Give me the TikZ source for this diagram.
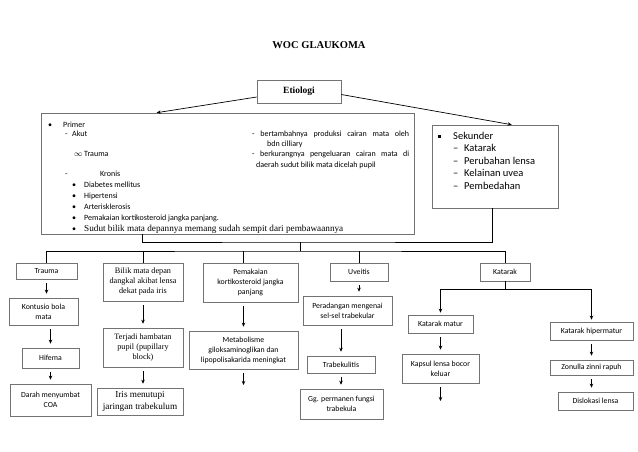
\documentclass[tikz,border=0pt]{standalone}
\usepackage{fontspec}
\setmainfont{Liberation Serif}
\newfontfamily\calibri{Carlito}
\usetikzlibrary{arrows.meta}

\tikzset{
  box/.style={draw=black!55, line width=0.6pt, inner sep=1pt, align=center,
    font=\calibri\fontsize{7.8}{10}\selectfont},
  serifbox/.style={box, font=\fontsize{8.2}{10}\selectfont},
  txt/.style={anchor=base west, inner sep=0pt, font=\calibri\fontsize{8}{9}\selectfont},
  bigtxt/.style={anchor=base west, inner sep=0pt, font=\calibri\fontsize{10.5}{12}\selectfont},
  link/.style={line width=0.7pt},
  arr/.style={->, line width=0.7pt, shorten <=4pt, shorten >=4pt}
}

\begin{document}
\begin{tikzpicture}[x=1pt, y=-1pt, >={Stealth[length=4pt,width=3.5pt]}]
 \useasboundingbox (0,0) rectangle (638,451);

 \node[font=\bfseries\fontsize{10.5}{12}\selectfont] (title) at (319,45) {WOC GLAUKOMA};
 \node[box, font=\bfseries\fontsize{9.5}{11}\selectfont,
       minimum width=84pt, minimum height=23pt] (etiologi) at (299,91.5) {Etiologi};

 % primer
 \node[box, minimum width=373pt, minimum height=121pt] (primer) at (227.5,173.5) {};
 \node[txt] (primer-dot) at (48,127) {\textbullet};
 \node[txt] (primer-head) at (63,127) {Primer};
 \node[txt] (akut-dash) at (65,136) {-};
 \node[txt] (akut) at (72,136) {Akut};
 \node[txt] (trauma-sign) at (74,156) {\ensuremath{\infty}};
 \node[txt] (trauma-txt) at (84,156) {Trauma};
 \node[txt] (kronis-dash) at (65,176) {-};
 \node[txt] (kronis) at (100,176) {Kronis};
 \foreach \lbl [count=\i] in {Diabetes mellitus, Hipertensi, Arterisklerosis,
                              Pemakaian kortikosteroid jangka panjang.}{
   \node[txt] (kronis-dot-\i) at (72,176+11*\i) {\textbullet};
   \node[txt] (kronis-\i) at (84,176+11*\i) {\lbl};
 }
 \node[txt] (kronis-dot-5) at (72,231) {\textbullet};
 \node[txt, font=\fontsize{9.2}{11}\selectfont] (kronis-5) at (84,231)
   {Sudut bilik mata depannya memang sudah sempit dari pembawaannya};
 \node[txt] (akut-1) at (252,136) {\makebox[157pt][s]{- bertambahnya produksi cairan mata oleh}};
 \node[txt] (akut-2) at (267,146) {bdn cilliary};
 \node[txt] (akut-3) at (252,156) {\makebox[157pt][s]{- berkurangnya pengeluaran cairan mata di}};
 \node[txt] (akut-4) at (256,167) {daerah sudut bilik mata dicelah pupil};

 % sekunder
 \node[box, minimum width=126pt, minimum height=83pt] (sekunder) at (495,166.5) {};
 \node[bigtxt] (sekunder-dot) at (438,139) {\rule[1.5pt]{3pt}{3pt}};
 \node[bigtxt] (sekunder-head) at (453,139) {Sekunder};
 \foreach \lbl [count=\i] in {Katarak, Perubahan lensa, Kelainan uvea, Pembedahan}{
   \node[bigtxt] (sekunder-dash-\i) at (453,139+12.5*\i) {\textendash};
   \node[bigtxt] (sekunder-\i) at (464,139+12.5*\i) {\lbl};
 }

 % first row
 \node[box, minimum width=61pt, minimum height=16pt] (trauma) at (46.5,271) {Trauma};
 \node[serifbox, minimum width=80pt, minimum height=38pt] (bilik) at (143,282)
   {Bilik mata depan\\dangkal akibat lensa\\dekat pada iris};
 \node[box, minimum width=95pt, minimum height=39pt] (pemakaian) at (250.5,282.5)
   {Pemakaian\\kortikosteroid jangka\\panjang};
 \node[box, minimum width=58pt, minimum height=18pt] (uveitis) at (359,272) {Uveitis};
 \node[box, minimum width=50pt, minimum height=18pt] (katarak) at (505,272) {Katarak};

 % trauma column
 \node[box, minimum width=69pt, minimum height=27pt] (kontusio) at (43.5,311.5) {Kontusio bola\\mata};
 \node[box, minimum width=57pt, minimum height=20pt] (hifema) at (50.5,358) {Hifema};
 \node[box, minimum width=81pt, minimum height=32pt] (darah) at (50.5,400) {Darah menyumbat\\COA};

 % bilik column
 \node[serifbox, minimum width=80pt, minimum height=39pt] (terjadi) at (143,347.5)
   {Terjadi hambatan\\pupil (pupillary\\block)};
 \node[serifbox, font=\fontsize{9.2}{11.5}\selectfont, minimum width=86pt, minimum height=27pt]
   (iris) at (140,401.5) {Iris menutupi\\jaringan trabekulum};

 % pemakaian column
 \node[box, minimum width=109pt, minimum height=38pt] (metabolisme) at (243.5,350)
   {Metabolisme\\giloksaminoglikan dan\\lipopolisakarida meningkat};
 \coordinate (metabolisme-out) at (243.5,389);

 % uveitis column
 \node[box, minimum width=89pt, minimum height=29pt] (peradangan) at (347.5,310.5)
   {Peradangan mengenai\\sel-sel trabekular};
 \node[box, minimum width=68pt, minimum height=17pt] (trabekulitis) at (341,364.5) {Trabekulitis};
 \node[box, minimum width=83pt, minimum height=30pt] (gg) at (341.5,404)
   {Gg. permanen fungsi\\trabekula};

 % katarak columns
 \node[box, minimum width=65pt, minimum height=18pt] (matur) at (440.5,324) {Katarak matur};
 \node[box, minimum width=77pt, minimum height=29pt] (kapsul) at (440.5,368.5)
   {Kapsul lensa bocor\\keluar};
 \coordinate (kapsul-out) at (440.5,405);
 \node[box, minimum width=83pt, minimum height=18pt] (hipermatur) at (591.5,331) {Katarak hipermatur};
 \node[box, minimum width=83pt, minimum height=15pt] (zonulla) at (591.5,367.5) {Zonulla zinni rapuh};
 \node[box, minimum width=75pt, minimum height=18pt] (dislokasi) at (595.5,401) {Dislokasi lensa};

 % connectors
 \draw[->, link] ([yshift=-5.5pt]etiologi.west) -- ([xshift=116pt]primer.north west);
 \draw[->, link] ([yshift=-3pt]etiologi.east) -- ([xshift=80pt]sekunder.north west);

 \coordinate (join) at (300,242);
 \coordinate (bus) at (300,251);
 \draw[link] ([xshift=102pt]primer.south west) |- (join) -| ([xshift=61pt]sekunder.south west);
 \draw[link] (join) -- (bus);
 \draw[link] (trauma.north) |- (bus) -| (katarak.north);
 \draw[link] (bilik.north) -- (bilik.north |- bus);
 \draw[link] (metabolisme.north |- pemakaian.north) -- (metabolisme.north |- bus);
 \draw[link] (uveitis.north) -- (uveitis.north |- bus);

 \draw[arr] (trauma.south) -- (trauma.south |- kontusio.north);
 \draw[arr] (hifema.north |- kontusio.south) -- (hifema.north);
 \draw[arr] (hifema.south) -- (hifema.south |- darah.north);
 \draw[arr] (bilik.south) -- (terjadi.north);
 \draw[arr] (terjadi.south) -- (terjadi.south |- iris.north);
 \draw[arr] (metabolisme.north |- pemakaian.south) -- (metabolisme.north);
 \draw[arr] (metabolisme.south) -- (metabolisme-out);
 \draw[arr] (uveitis.south) -- (uveitis.south |- peradangan.north);
 \draw[arr] (trabekulitis.north |- peradangan.south) -- (trabekulitis.north);
 \draw[arr] (trabekulitis.south) -- (trabekulitis.south |- gg.north);

 \coordinate (split) at (505,289);
 \draw[link] (katarak.south) -- (split);
 \draw[->, link, shorten >=2pt] (split) -| (matur.north);
 \draw[->, link, shorten >=2pt] (split) -| (hipermatur.north);
 \draw[arr] (matur.south) -- (kapsul.north);
 \draw[arr] (kapsul.south) -- (kapsul-out);
 \draw[arr] (hipermatur.south) -- (zonulla.north);
 \draw[arr] (zonulla.south) -- (zonulla.south |- dislokasi.north);
\end{tikzpicture}
\end{document}
